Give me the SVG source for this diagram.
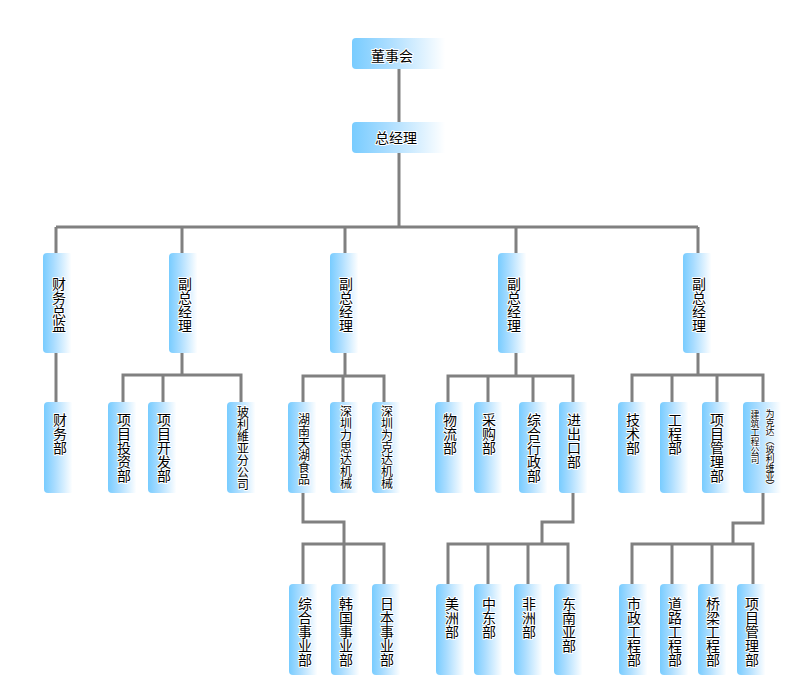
<svg xmlns="http://www.w3.org/2000/svg" width="806" height="675" viewBox="0 0 806 675">
<defs>
<linearGradient id="g" x1="0" y1="0" x2="1" y2="0">
<stop offset="0" stop-color="#78ccff"/>
<stop offset="0.35" stop-color="#a8dcff"/>
<stop offset="0.95" stop-color="#ffffff"/>
</linearGradient>
<style>
.b{fill:url(#g)}
.c{fill:none;stroke:#808080;stroke-width:3}
.t{font-family:"Noto Sans CJK SC",sans-serif;font-size:14px;fill:#000;stroke:#fff;stroke-width:2;paint-order:stroke;stroke-linejoin:round}
.v{writing-mode:vertical-rl}
.s{font-size:12px}
.xs{font-size:9px;stroke-width:1.5}
.h{text-anchor:middle}
</style>
</defs>
<rect width="806" height="675" fill="#fff"/>
<g id="connectors">
<path class="c" d="M399,69V122M399,153V227M56,227H698M56,227V253M182,227V253M345,227V253M516,227V253M698,227V253"/>
<path class="c" d="M56,353V403"/>
<path class="c" d="M182,353V375M123,402V375H241V402M163,375V402"/>
<path class="c" d="M345,353V376M303,402V376H384V402M343,376V402"/>
<path class="c" d="M516,353V376M448,402V376H573V402M488,376V402M533,376V402"/>
<path class="c" d="M698,353V375M632,402V375H763V402M672,375V402M717,375V402"/>
<path class="c" d="M303,493V522H344V544M303,584V544H384V584M344,544V584"/>
<path class="c" d="M573,493V522H542V544M448,584V544H568V584M488,544V584M528,544V584"/>
<path class="c" d="M763,493V523H733V544M632,584V544H753V584M672,544V584M712,544V584"/>
</g>
<g id="n-board"><rect class="b" x="352" y="38" width="98" height="31" rx="4"/><text class="t h" x="392" y="61">董事会</text></g>
<g id="n-gm"><rect class="b" x="352" y="122" width="98" height="31" rx="4"/><text class="t h" x="396" y="143">总经理</text></g>
<g id="n-cfo"><rect class="b" x="43" y="253" width="30" height="100" rx="4"/><text class="t v" x="59" y="277">财务总监</text></g>
<g id="n-vp1"><rect class="b" x="169" y="253" width="30" height="100" rx="4"/><text class="t v" x="185" y="277">副总经理</text></g>
<g id="n-vp2"><rect class="b" x="330" y="253" width="30" height="100" rx="4"/><text class="t v" x="346" y="277">副总经理</text></g>
<g id="n-vp3"><rect class="b" x="498" y="253" width="30" height="100" rx="4"/><text class="t v" x="514" y="277">副总经理</text></g>
<g id="n-vp4"><rect class="b" x="683" y="253" width="30" height="100" rx="4"/><text class="t v" x="699" y="277">副总经理</text></g>
<g id="n-fin"><rect class="b" x="44" y="402" width="30" height="91" rx="4"/><text class="t v" x="60" y="413">财务部</text></g>
<g id="n-inv"><rect class="b" x="108" y="402" width="30" height="91" rx="4"/><text class="t v" x="124" y="413">项目投资部</text></g>
<g id="n-dev"><rect class="b" x="148" y="402" width="30" height="91" rx="4"/><text class="t v" x="164" y="413">项目开发部</text></g>
<g id="n-bol"><rect class="b" x="227" y="402" width="30" height="91" rx="4"/><text class="t v s" x="243" y="406">玻利維亚分公司</text></g>
<g id="n-hn"><rect class="b" x="288" y="402" width="30" height="91" rx="4"/><text class="t v s" x="304" y="413">湖南天湖食品</text></g>
<g id="n-sz1"><rect class="b" x="330" y="402" width="30" height="91" rx="4"/><text class="t v s" x="346" y="405">深圳力思达机械</text></g>
<g id="n-sz2"><rect class="b" x="372" y="402" width="30" height="91" rx="4"/><text class="t v s" x="387" y="405">深圳为克达机械</text></g>
<g id="n-log"><rect class="b" x="435" y="402" width="30" height="91" rx="4"/><text class="t v" x="450" y="413">物流部</text></g>
<g id="n-pur"><rect class="b" x="474" y="402" width="30" height="91" rx="4"/><text class="t v" x="489" y="413">采购部</text></g>
<g id="n-adm"><rect class="b" x="519" y="402" width="30" height="91" rx="4"/><text class="t v" x="534" y="413">综合行政部</text></g>
<g id="n-ie"><rect class="b" x="559" y="402" width="30" height="91" rx="4"/><text class="t v" x="574" y="413">进出口部</text></g>
<g id="n-tech"><rect class="b" x="618" y="402" width="30" height="91" rx="4"/><text class="t v" x="633" y="413">技术部</text></g>
<g id="n-eng"><rect class="b" x="660" y="402" width="30" height="91" rx="4"/><text class="t v" x="675" y="413">工程部</text></g>
<g id="n-pm"><rect class="b" x="702" y="402" width="30" height="91" rx="4"/><text class="t v" x="717" y="413">项目管理部</text></g>
<g id="n-wkd"><rect class="b" x="743" y="402" width="40" height="91" rx="4"/><text class="t v xs" x="770" y="409">为克达（玻利维亚）</text><text class="t v xs" x="755" y="410">建筑工程公司</text></g>
<g id="n-zh"><rect class="b" x="289" y="584" width="30" height="91" rx="4"/><text class="t v" x="305" y="597">综合事业部</text></g>
<g id="n-kr"><rect class="b" x="331" y="584" width="30" height="91" rx="4"/><text class="t v" x="346" y="597">韩国事业部</text></g>
<g id="n-jp"><rect class="b" x="372" y="584" width="30" height="91" rx="4"/><text class="t v" x="387" y="597">日本事业部</text></g>
<g id="n-am"><rect class="b" x="436" y="584" width="30" height="91" rx="4"/><text class="t v" x="452" y="597">美洲部</text></g>
<g id="n-me"><rect class="b" x="474" y="584" width="30" height="91" rx="4"/><text class="t v" x="489" y="597">中东部</text></g>
<g id="n-af"><rect class="b" x="514" y="584" width="30" height="91" rx="4"/><text class="t v" x="529" y="597">非洲部</text></g>
<g id="n-sea"><rect class="b" x="554" y="584" width="30" height="91" rx="4"/><text class="t v" x="569" y="597">东南亚部</text></g>
<g id="n-mun"><rect class="b" x="619" y="584" width="30" height="91" rx="4"/><text class="t v" x="634" y="597">市政工程部</text></g>
<g id="n-road"><rect class="b" x="660" y="584" width="30" height="91" rx="4"/><text class="t v" x="675" y="597">道路工程部</text></g>
<g id="n-brg"><rect class="b" x="698" y="584" width="30" height="91" rx="4"/><text class="t v" x="713" y="597">桥梁工程部</text></g>
<g id="n-pm2"><rect class="b" x="737" y="584" width="30" height="91" rx="4"/><text class="t v" x="752" y="597">项目管理部</text></g>
</svg>
